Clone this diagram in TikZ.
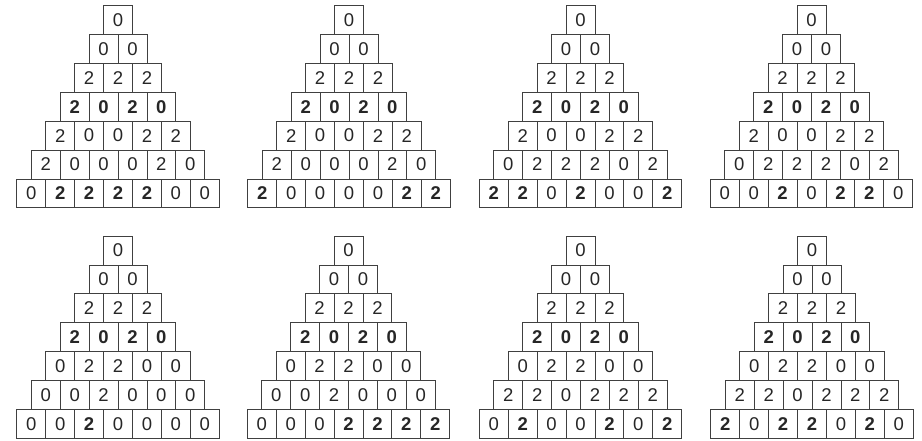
\documentclass[tikz,border=0pt]{standalone}
\usepackage{fontspec}
\setmainfont{Liberation Sans}
\begin{document}
\begin{tikzpicture}[x=1pt,y=-1pt,
  cell/.style={draw=black!75, line width=0.8pt, minimum width=28.9pt, minimum height=28.9pt,
    inner sep=0pt, anchor=center, font=\fontsize{18.5}{18.5}\selectfont, text=black!85},
  m0/.style={}, m2/.style={},
  mb/.style={font=\fontsize{18.5}{18.5}\selectfont\bfseries}]
\useasboundingbox (0,0) rectangle (922,440);
\newcommand\drawpyr[4]{%
  \foreach \row [count=\r] in {#4} {
    \foreach \v/\w [count=\c] in \row {
      \node[cell, m\w] (#1-\r-\c) at ({#2+(\c-(\r+1)/2)*28.9}, {#3+(\r-0.5)*28.9}) {\v};
    }
  }%
}
\drawpyr{pa}{118}{5.5}{{0},{0,0},{2,2,2},{2/b,0/b,2/b,0/b},{2,0,0,2,2},{2,0,0,0,2,0},{0,2/b,2/b,2/b,2/b,0,0}}
\drawpyr{pb}{349}{5.5}{{0},{0,0},{2,2,2},{2/b,0/b,2/b,0/b},{2,0,0,2,2},{2,0,0,0,2,0},{2/b,0,0,0,0,2/b,2/b}}
\drawpyr{pc}{580.5}{5.5}{{0},{0,0},{2,2,2},{2/b,0/b,2/b,0/b},{2,0,0,2,2},{0,2,2,2,0,2},{2/b,2/b,0,2/b,0,0,2/b}}
\drawpyr{pd}{811.5}{5.5}{{0},{0,0},{2,2,2},{2/b,0/b,2/b,0/b},{2,0,0,2,2},{0,2,2,2,0,2},{0,0,2/b,0,2/b,2/b,0}}
\drawpyr{pe}{118}{236}{{0},{0,0},{2,2,2},{2/b,0/b,2/b,0/b},{0,2,2,0,0},{0,0,2,0,0,0},{0,0,2/b,0,0,0,0}}
\drawpyr{pf}{348.5}{236}{{0},{0,0},{2,2,2},{2/b,0/b,2/b,0/b},{0,2,2,0,0},{0,0,2,0,0,0},{0,0,0,2/b,2/b,2/b,2/b}}
\drawpyr{pg}{580.5}{236}{{0},{0,0},{2,2,2},{2/b,0/b,2/b,0/b},{0,2,2,0,0},{2,2,0,2,2,2},{0,2/b,0,0,2/b,0,2/b}}
\drawpyr{ph}{812}{236}{{0},{0,0},{2,2,2},{2/b,0/b,2/b,0/b},{0,2,2,0,0},{2,2,0,2,2,2},{2/b,0,2/b,2/b,0,2/b,0}}
\end{tikzpicture}
\end{document}
